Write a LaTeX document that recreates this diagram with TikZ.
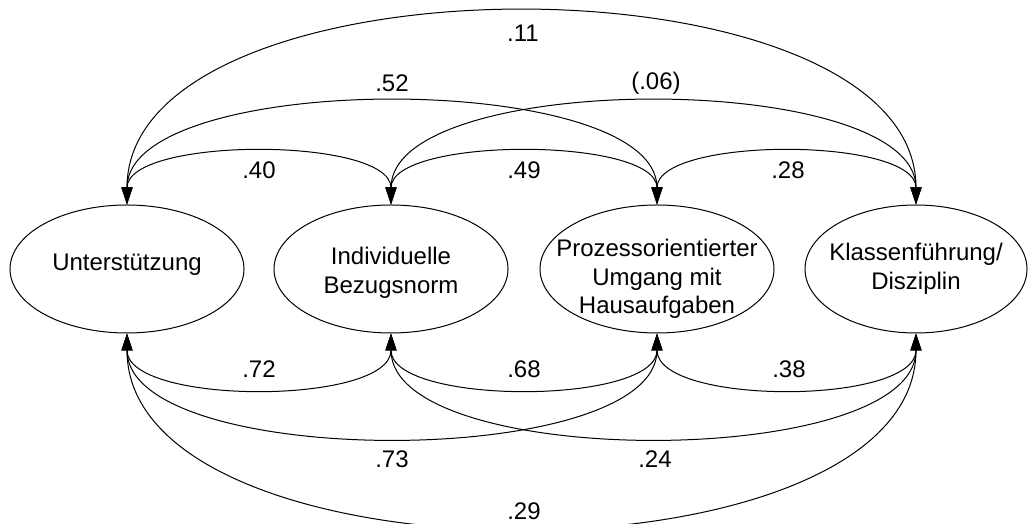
\documentclass[tikz,border=0pt]{standalone}
\usepackage{fontspec}
\setmainfont{Liberation Sans}
\usetikzlibrary{shapes.geometric,arrows.meta}
\tikzset{
  var/.style = {draw, ellipse, line width=.5pt, inner sep=0pt, minimum width=117pt, minimum height=64pt},
  cor/.style = {<->, line width=.5pt},
}
\begin{document}
\begin{tikzpicture}[x=.5pt, y=.5pt, font=\fontsize{12}{14.25}\selectfont, >={Triangle[length=8.5pt,width=5.5pt]}]
  \useasboundingbox (0,0) rectangle (1028,524);
  \node [var, label={[yshift=2pt]center:Unterstützung}] (unt) at (127,255) {};
  \node [var, label={[align=center,yshift=-2pt]center:Individuelle\\Bezugsnorm}] (ibn) at (391,255) {};
  \node [var, label={[align=center,yshift=-5pt]center:Prozessorientierter\\Umgang mit\\Hausaufgaben}] (pha) at (657,255) {};
  \node [var, minimum width=111pt, label={[align=center]center:Klassenführung/\\Disziplin}] (kfd) at (916,255) {};
  \draw [cor] (unt.north) to [out=90, in=90, distance=34pt] (ibn.north);
  \draw [cor] (ibn.north) to [out=90, in=90, distance=34pt] (pha.north);
  \draw [cor] (pha.north) to [out=90, in=90, distance=34pt] (kfd.north);
  \draw [cor] (unt.north) to [out=90, in=90, distance=67.5pt] (pha.north);
  \draw [cor] (ibn.north) to [out=90, in=90, distance=67.5pt] (kfd.north);
  \draw [cor] (unt.north) to [out=90, in=90, distance=127.5pt] (kfd.north);
  \draw [cor] (unt.south) to [out=-90, in=-90, distance=36pt] (ibn.south);
  \draw [cor] (ibn.south) to [out=-90, in=-90, distance=36pt] (pha.south);
  \draw [cor] (pha.south) to [out=-90, in=-90, distance=36pt] (kfd.south);
  \draw [cor] (unt.south) to [out=-90, in=-90, distance=68.5pt] (pha.south);
  \draw [cor] (ibn.south) to [out=-90, in=-90, distance=68.5pt] (kfd.south);
  \draw [cor] (unt.south) to [out=-90, in=-90, distance=128.5pt] (kfd.south);
  \node at (523,491) {.11};
  \node at (392,441) {.52};
  \node at (656,441) {(.06)};
  \node at (259,354) {.40};
  \node at (524,354) {.49};
  \node at (788,354) {.28};
  \node at (259,155) {.72};
  \node at (524,155) {.68};
  \node at (789,155) {.38};
  \node at (392,65) {.73};
  \node at (655,65) {.24};
  \node at (524,13) {.29};
\end{tikzpicture}
\end{document}
